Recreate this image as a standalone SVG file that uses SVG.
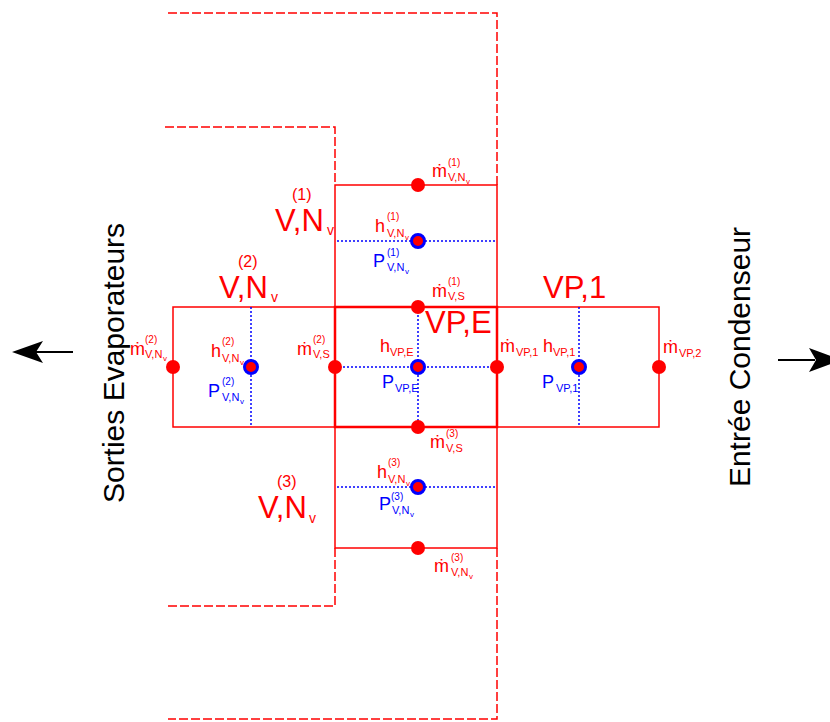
<svg xmlns="http://www.w3.org/2000/svg" width="830" height="722" viewBox="0 0 830 722">
<style>
text{font-family:"Liberation Sans",Arial,sans-serif}
.box{fill:none;stroke:#ff0000;stroke-width:1.5}
.boxc{fill:none;stroke:#ff0000;stroke-width:2.5}
.dash{fill:none;stroke:#ff0000;stroke-width:1.5;stroke-dasharray:9,3}
.dot{fill:none;stroke:#0000ff;stroke-width:1.5;stroke-dasharray:2,2}
.rd{fill:#ff0000}
.ring{fill:#ff0000;stroke:#0000ff;stroke-width:3}
.r{fill:#ff0000}
.b{fill:#0000ff}
.mn{font-size:18px}
.sp{font-size:10px}
.sb{font-size:11px}
.ss{font-size:8px}
.big{font-size:31px;fill:#ff0000}
.bsp{font-size:16px}
.bsb{font-size:14px}
.side{font-size:30px;fill:#000}
.arr{stroke:#000;stroke-width:2}
</style>
<g id="connectors">
<path class="dash" d="M168,13 H497 V185"/>
<path class="dash" d="M165,127 H335 V185"/>
<path class="dash" d="M335,548 V606 H165"/>
<path class="dash" d="M497,548 V719 H168"/>
<line class="arr" x1="73" y1="352" x2="34" y2="352"/>
<polygon points="12,352 43,341 36,352 43,363" fill="#000"/>
<line class="arr" x1="778" y1="360" x2="815" y2="360"/>
<polygon points="842,360 809,348 816,360 809,372" fill="#000"/>
</g>
<g id="box-v1">
<rect class="box" x="335" y="185" width="162" height="122"/>
<line class="dot" x1="337" y1="241" x2="497" y2="241"/>
</g>
<g id="box-v2">
<rect class="box" x="173" y="307" width="162" height="120"/>
<line class="dot" x1="251" y1="307" x2="251" y2="427"/>
</g>
<g id="box-vp1">
<rect class="box" x="497" y="307" width="162" height="120"/>
<line class="dot" x1="579" y1="307" x2="579" y2="427"/>
</g>
<g id="box-v3">
<rect class="box" x="335" y="427" width="162" height="121"/>
<line class="dot" x1="337" y1="487" x2="497" y2="487"/>
</g>
<g id="box-vpe">
<rect class="boxc" x="335" y="307" width="162" height="120"/>
<line class="dot" x1="335" y1="367" x2="497" y2="367"/>
<line class="dot" x1="418" y1="307" x2="418" y2="427"/>
</g>
<g id="points">
<circle class="rd" cx="418" cy="185" r="7"/>
<circle class="rd" cx="418" cy="307" r="7"/>
<circle class="rd" cx="418" cy="427" r="7"/>
<circle class="rd" cx="418" cy="548" r="7"/>
<circle class="rd" cx="173" cy="367" r="7"/>
<circle class="rd" cx="335" cy="367" r="7"/>
<circle class="rd" cx="497" cy="367" r="7"/>
<circle class="rd" cx="659" cy="367" r="7"/>
<circle class="ring" cx="418" cy="241" r="6.5"/>
<circle class="ring" cx="251" cy="367" r="6.5"/>
<circle class="ring" cx="418" cy="367" r="6.5"/>
<circle class="ring" cx="579" cy="367" r="6.5"/>
<circle class="ring" cx="418" cy="487" r="6.5"/>
</g>
<g id="labels-big">
<text class="big"><tspan x="275" y="231">V,N</tspan><tspan class="bsp" x="292" y="200">(1)</tspan><tspan class="bsb" x="327" y="235">v</tspan></text>
<text class="big"><tspan x="219" y="298">V,N</tspan><tspan class="bsp" x="238" y="267">(2)</tspan><tspan class="bsb" x="271" y="302">v</tspan></text>
<text class="big"><tspan x="258" y="518">V,N</tspan><tspan class="bsp" x="277" y="487">(3)</tspan><tspan class="bsb" x="309" y="523">v</tspan></text>
<text class="big" x="425" y="333" font-size="30">VP,E</text>
<text class="big" x="543" y="298" font-size="30">VP,1</text>
</g>
<g id="labels-small">
<text class="r"><tspan class="mn" x="432" y="177">ṁ</tspan><tspan class="sp" x="448" y="166">(1)</tspan><tspan class="sb" x="448" y="181">V,N</tspan><tspan class="ss" x="466" y="184">v</tspan></text>
<text class="r"><tspan class="mn" x="375" y="232">h</tspan><tspan class="sp" x="387" y="220">(1)</tspan><tspan class="sb" x="387" y="237">V,N</tspan><tspan class="ss" x="405" y="240">v</tspan></text>
<text class="b"><tspan class="mn" x="373" y="267">P</tspan><tspan class="sp" x="387" y="256">(1)</tspan><tspan class="sb" x="387" y="271">V,N</tspan><tspan class="ss" x="405" y="274">v</tspan></text>
<text class="r"><tspan class="mn" x="432" y="297">ṁ</tspan><tspan class="sp" x="448" y="285">(1)</tspan><tspan class="sb" x="448" y="300">V,S</tspan></text>
<text class="r"><tspan class="mn" x="130" y="355">ṁ</tspan><tspan class="sp" x="145" y="343">(2)</tspan><tspan class="sb" x="145" y="358">V,N</tspan><tspan class="ss" x="163" y="361">v</tspan></text>
<text class="r"><tspan class="mn" x="211" y="357">h</tspan><tspan class="sp" x="222" y="345">(2)</tspan><tspan class="sb" x="222" y="362">V,N</tspan><tspan class="ss" x="240" y="365">v</tspan></text>
<text class="b"><tspan class="mn" x="208" y="397">P</tspan><tspan class="sp" x="222" y="385">(2)</tspan><tspan class="sb" x="222" y="401">V,N</tspan><tspan class="ss" x="240" y="404">v</tspan></text>
<text class="r"><tspan class="mn" x="297" y="355">ṁ</tspan><tspan class="sp" x="313" y="343">(2)</tspan><tspan class="sb" x="313" y="358">V,S</tspan></text>
<text class="r"><tspan class="mn" x="380" y="352">h</tspan><tspan class="sb" x="390" y="356">VP,E</tspan></text>
<text class="b"><tspan class="mn" x="382" y="388">P</tspan><tspan class="sb" x="395" y="392">VP,E</tspan></text>
<text class="r"><tspan class="mn" x="500" y="352">ṁ</tspan><tspan class="sb" x="516" y="356">VP,1</tspan></text>
<text class="r"><tspan class="mn" x="543" y="352">h</tspan><tspan class="sb" x="553" y="356">VP,1</tspan></text>
<text class="b"><tspan class="mn" x="542" y="388">P</tspan><tspan class="sb" x="556" y="392">VP,1</tspan></text>
<text class="r"><tspan class="mn" x="663" y="353">ṁ</tspan><tspan class="sb" x="679" y="357">VP,2</tspan></text>
<text class="r"><tspan class="mn" x="430" y="448">ṁ</tspan><tspan class="sp" x="446" y="437">(3)</tspan><tspan class="sb" x="446" y="452">V,S</tspan></text>
<text class="r"><tspan class="mn" x="377" y="478">h</tspan><tspan class="sp" x="388" y="466">(3)</tspan><tspan class="sb" x="388" y="483">V,N</tspan><tspan class="ss" x="406" y="486">v</tspan></text>
<text class="b"><tspan class="mn" x="379" y="510">P</tspan><tspan class="sp" x="391" y="500">(3)</tspan><tspan class="sb" x="392" y="514">V,N</tspan><tspan class="ss" x="410" y="517">v</tspan></text>
<text class="r"><tspan class="mn" x="434" y="572">ṁ</tspan><tspan class="sp" x="451" y="561">(3)</tspan><tspan class="sb" x="451" y="576">V,N</tspan><tspan class="ss" x="469" y="579">v</tspan></text>
</g>
<g id="side-labels">
<text class="side" text-anchor="middle" transform="translate(124,363) rotate(-90)">Sorties Evaporateurs</text>
<text class="side" text-anchor="middle" transform="translate(750,357) rotate(-90)">Entrée Condenseur</text>
</g>
</svg>
